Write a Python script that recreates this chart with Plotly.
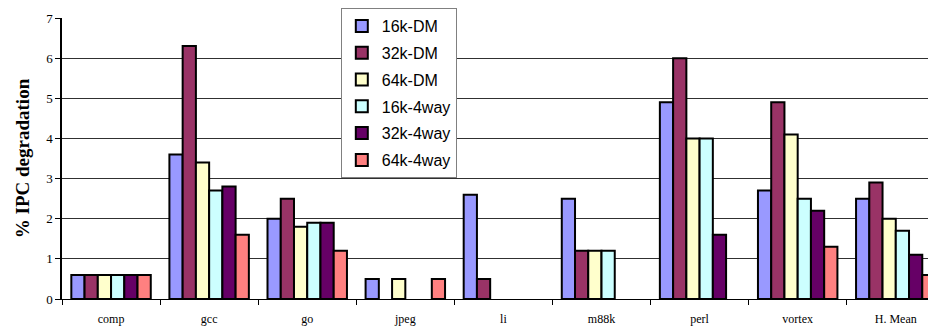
import plotly.graph_objects as go

categories = ["comp", "gcc", "go", "jpeg", "li", "m88k", "perl", "vortex", "H. Mean"]
series_names = ["16k-DM", "32k-DM", "64k-DM", "16k-4way", "32k-4way", "64k-4way"]
dm16 = [0.6, 3.6, 2.0, 0.5, 2.6, 2.5, 4.9, 2.7, 2.5]
dm32 = [0.6, 6.3, 2.5, 0.0, 0.5, 1.2, 6.0, 4.9, 2.9]
dm64 = [0.6, 3.4, 1.8, 0.5, 0.0, 1.2, 4.0, 4.1, 2.0]
way16 = [0.6, 2.7, 1.9, 0.0, 0.0, 1.2, 4.0, 2.5, 1.7]
way32 = [0.6, 2.8, 1.9, 0.0, 0.0, 0.0, 1.6, 2.2, 1.1]
way64 = [0.6, 1.6, 1.2, 0.5, 0.0, 0.0, 0.0, 1.3, 0.6]
series_values = [dm16, dm32, dm64, way16, way32, way64]
colors = ["#9999FF", "#993366", "#FFFFCC", "#CCFFFF", "#660066", "#FF8080"]
y_ticks = [0, 1, 2, 3, 4, 5, 6, 7]

fig = go.Figure()
for name, vals, col in zip(series_names, series_values, colors):
    # zero values: no bar drawn in reference
    vv = [v if v > 0 else None for v in vals]
    fig.add_trace(go.Bar(
        x=categories, y=vv, name=name, legendgroup=name,
        marker=dict(color=col, line=dict(color="black", width=2)),
    ))

# the page body has an 8px margin, so the figure is 8px smaller and offset
fig.update_layout(
    width=928, height=324,
    margin=dict(l=54, r=0, t=10, b=33, autoexpand=False),
    paper_bgcolor="white", plot_bgcolor="white",
    barmode="group", bargap=0.19, bargroupgap=0,
    showlegend=True,
    legend=dict(
        x=0.319, y=1.0356, xanchor="left", yanchor="top",
        bgcolor="white", bordercolor="#808080", borderwidth=1,
        font=dict(family="Liberation Sans, Arial", size=16, color="black"),
        tracegroupgap=3, traceorder="grouped", maxheight=320,
    ),
    xaxis=dict(
        type="category", range=[-0.5, 8.41], automargin=False,
        showgrid=False, showline=True, linecolor="black", linewidth=1,
        ticks="outside", tickson="boundaries", ticklen=5, tickcolor="black",
        tickfont=dict(family="Liberation Serif, Times New Roman", size=12, color="black"),
        ticklabelstandoff=9,
    ),
    yaxis=dict(
        range=[0, 7], tickvals=y_ticks, automargin=False,
        showgrid=True, gridcolor="#303030", gridwidth=1,
        showline=True, linecolor="black", linewidth=1.5,
        ticks="outside", ticklen=5, tickcolor="black",
        tickfont=dict(family="Liberation Serif, Times New Roman", size=13, color="black"),
        zeroline=False,
        title=dict(text="% IPC degradation", standoff=12,
                   font=dict(family="Liberation Serif, Times New Roman", size=19, color="black", weight="bold")),
    ),
)

fig.write_html("out.html")
